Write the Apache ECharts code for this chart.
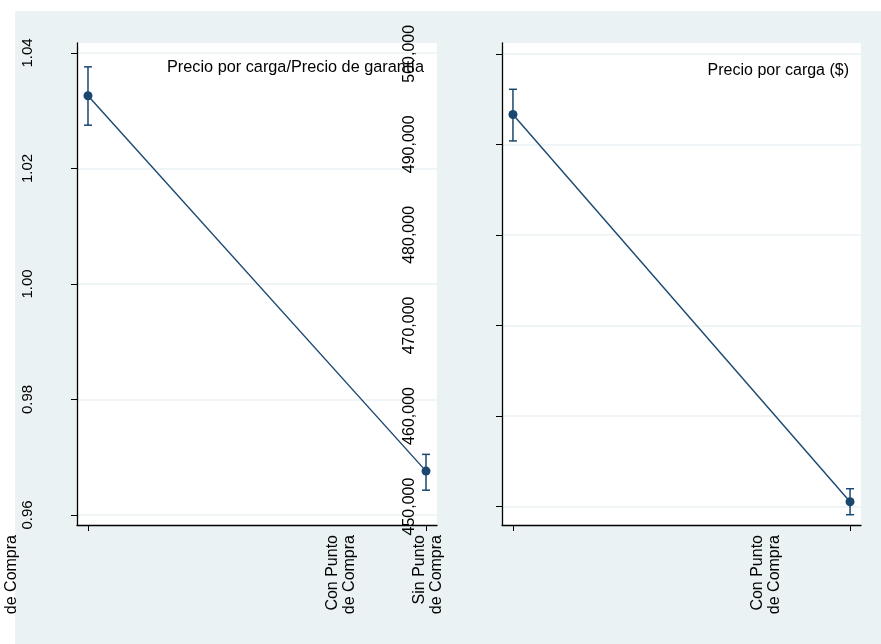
<!DOCTYPE html>
<html>
<head>
<meta charset="utf-8">
<script src="https://cdn.jsdelivr.net/npm/echarts@6/dist/echarts.min.js"></script>
<style>
html, body { margin: 0; padding: 0; background: #fff; }
#main { width: 881px; height: 644px; }
</style>
</head>
<body>
<div id="main"></div>
<script>
// Group labels and positions on the x axis
const groupLabels = ['Sin Punto\nde Compra', 'Con Punto\nde Compra'];
const xPos = [0, 1];

// Left panel: price per load / guarantee price (mean and 95% CI)
const ratioMean = [1.0326, 0.9676];
const ratioLow  = [1.0275, 0.9643];
const ratioHigh = [1.0376, 0.9705];
const ratioTicks = [0.96, 0.98, 1.00, 1.02, 1.04];

// Right panel: price per load in $ (mean and 95% CI)
const priceMean = [493290, 450530];
const priceLow  = [490375, 449095];
const priceHigh = [496080, 451965];
const priceTicks = [450000, 460000, 470000, 480000, 490000, 500000];

const panelTitles = ['Precio por carga/Precio de garantía', 'Precio por carga ($)'];

const NAVY = '#1A476F';
const BG = '#EAF2F3';
const FONT = 'Liberation Sans';

function errorBar(params, api) {
  const x = api.value(0);
  const lo = api.coord([x, api.value(1)]);
  const hi = api.coord([x, api.value(2)]);
  const half = 4;
  const style = { stroke: NAVY, lineWidth: 1.5, fill: null };
  return {
    type: 'group',
    children: [
      { type: 'line', shape: { x1: lo[0], y1: lo[1], x2: hi[0], y2: hi[1] }, style: style },
      { type: 'line', shape: { x1: lo[0] - half, y1: lo[1], x2: lo[0] + half, y2: lo[1] }, style: style },
      { type: 'line', shape: { x1: hi[0] - half, y1: hi[1], x2: hi[0] + half, y2: hi[1] }, style: style }
    ]
  };
}

const axisLine = { show: true, onZero: false, lineStyle: { color: '#000', width: 1.3 } };
const tick = { show: true, length: 6, lineStyle: { color: '#000', width: 1 } };
const gridLine = { show: true, lineStyle: { color: BG, width: 1.5 } };

function mainX(gridIndex) {
  return {
    type: 'value', gridIndex: gridIndex, min: -0.0325, max: 1.0325,
    axisLine: axisLine,
    axisTick: Object.assign({ customValues: xPos }, tick),
    axisLabel: { show: false },
    splitLine: { show: false }
  };
}

function labelX(gridIndex) {
  return {
    type: 'category', gridIndex: gridIndex, data: groupLabels, boundaryGap: false,
    axisLine: { show: false }, axisTick: { show: false }, splitLine: { show: false },
    axisLabel: {
      interval: 0, rotate: 90, margin: 10,
      fontFamily: FONT, fontSize: 16, lineHeight: 17, color: '#000'
    }
  };
}

const option = {
  backgroundColor: '#fff',
  animation: false,
  graphic: [
    { type: 'rect', z: -100, shape: { x: 15, y: 11, width: 866, height: 633 }, style: { fill: BG } }
  ],
  title: [
    {
      text: panelTitles[0], right: 452, top: 55,
      textStyle: { fontFamily: FONT, fontSize: 16.3, fontWeight: 'normal', color: '#000' }
    },
    {
      text: panelTitles[1], right: 27, top: 58,
      textStyle: { fontFamily: FONT, fontSize: 16, fontWeight: 'normal', color: '#000' }
    }
  ],
  grid: [
    { left: 77, top: 43, width: 360, height: 482, show: true, backgroundColor: '#fff', borderWidth: 0, outerBoundsMode: 'none' },
    { left: 502, top: 43, width: 359, height: 482, show: true, backgroundColor: '#fff', borderWidth: 0, outerBoundsMode: 'none' },
    { left: 3.5, top: 43, width: 338, height: 482, outerBoundsMode: 'none' },
    { left: 428, top: 43, width: 338, height: 482, outerBoundsMode: 'none' }
  ],
  xAxis: [mainX(0), mainX(1), labelX(2), labelX(3)],
  yAxis: [
    {
      type: 'value', gridIndex: 0, min: 0.95827, max: 1.04173,
      axisLine: axisLine,
      axisTick: Object.assign({ customValues: ratioTicks }, tick),
      axisLabel: {
        customValues: ratioTicks, rotate: 90, margin: 42,
        fontFamily: FONT, fontSize: 15, color: '#000',
        formatter: v => v.toFixed(2)
      },
      splitLine: gridLine
    },
    {
      type: 'value', gridIndex: 1, min: 447958, max: 501192,
      axisLine: axisLine,
      axisTick: Object.assign({ customValues: priceTicks }, tick),
      axisLabel: {
        customValues: priceTicks, rotate: 90, margin: 84,
        fontFamily: FONT, fontSize: 16, color: '#000',
        formatter: v => v.toLocaleString('en-US')
      },
      splitLine: gridLine
    },
    { type: 'value', gridIndex: 2, show: false },
    { type: 'value', gridIndex: 3, show: false }
  ],
  series: [
    {
      type: 'custom', xAxisIndex: 0, yAxisIndex: 0, renderItem: errorBar,
      encode: { x: 0, y: [1, 2] },
      data: xPos.map((x, i) => [x, ratioLow[i], ratioHigh[i]]), z: 3
    },
    {
      type: 'line', xAxisIndex: 0, yAxisIndex: 0, clip: false,
      symbol: 'circle', symbolSize: 9,
      itemStyle: { color: NAVY }, lineStyle: { color: NAVY, width: 1.4 },
      data: xPos.map((x, i) => [x, ratioMean[i]]), z: 4
    },
    {
      type: 'custom', xAxisIndex: 1, yAxisIndex: 1, renderItem: errorBar,
      encode: { x: 0, y: [1, 2] },
      data: xPos.map((x, i) => [x, priceLow[i], priceHigh[i]]), z: 3
    },
    {
      type: 'line', xAxisIndex: 1, yAxisIndex: 1, clip: false,
      symbol: 'circle', symbolSize: 9,
      itemStyle: { color: NAVY }, lineStyle: { color: NAVY, width: 1.4 },
      data: xPos.map((x, i) => [x, priceMean[i]]), z: 4
    }
  ]
};

const chart = echarts.init(document.getElementById('main'), null, { renderer: 'canvas' });
chart.setOption(option);
</script>
</body>
</html>
